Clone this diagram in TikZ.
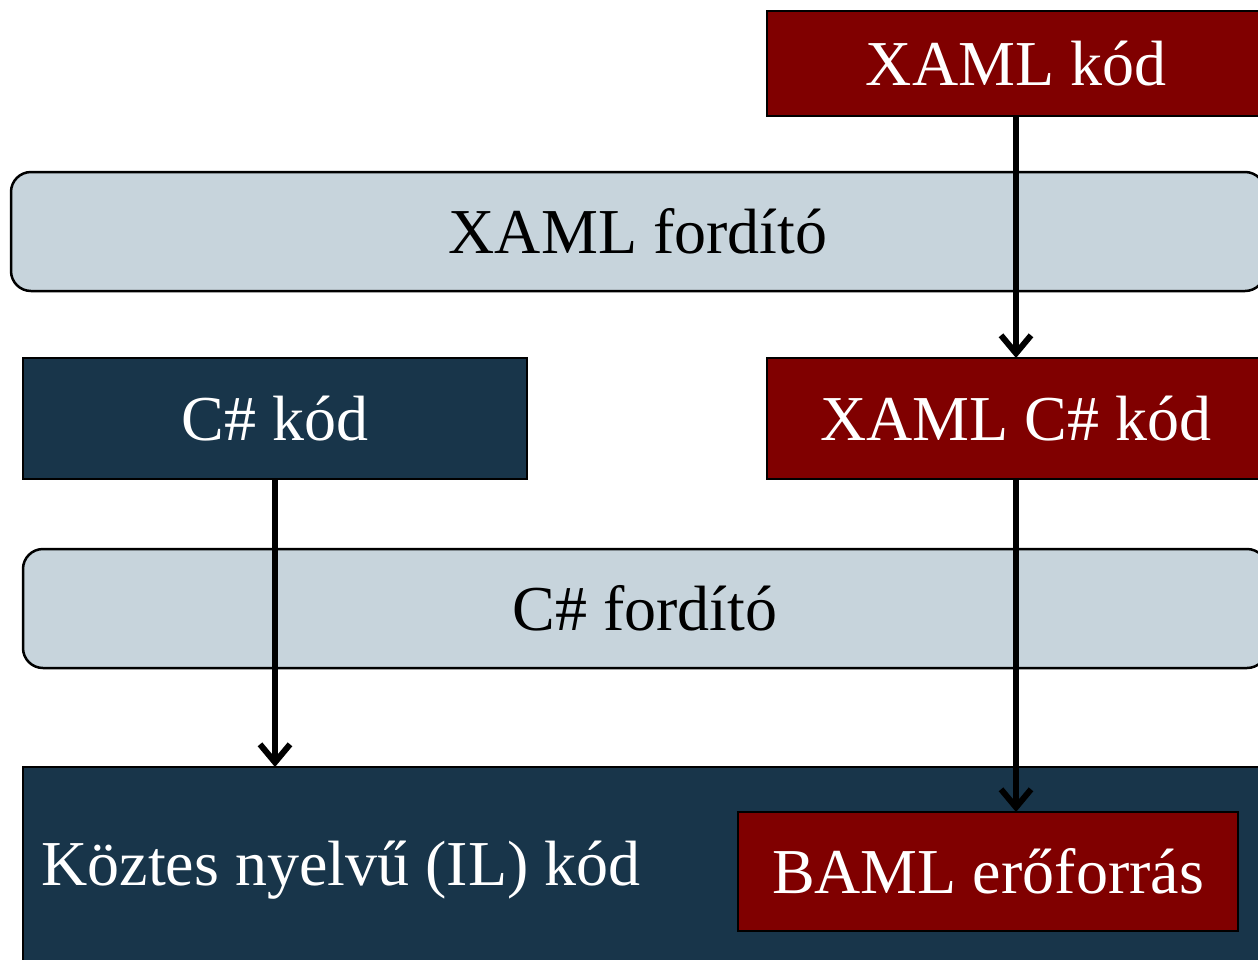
\documentclass[tikz,border=0pt]{standalone}
\usepackage{fontspec}
\setmainfont{Liberation Serif}
\usetikzlibrary{arrows.meta}

\definecolor{kodred}{HTML}{800000}
\definecolor{kodnavy}{HTML}{18354A}
\definecolor{forditogray}{HTML}{C7D4DC}

\tikzset{
  kodbox/.style={draw=black, line width=2.5pt, inner sep=0pt, outer sep=0pt,
                 text=white, font=\fontsize{64}{70}\selectfont},
  forditobox/.style={draw=black, line width=2.5pt, fill=forditogray, rounded corners=20pt,
                     inner sep=0pt, outer sep=0pt, font=\fontsize{64}{70}\selectfont},
  flow/.style={draw=black, line width=6pt, -{Straight Barb[length=18pt,width=30pt]}}
}

\begin{document}
\begin{tikzpicture}[x=1pt, y=-1pt]
  %one unit is one pixel of the 1258x959 reference
  \useasboundingbox (0,0) rectangle (1258,959);

  % the intermediate code block lies under everything
  \node[kodbox, fill=kodnavy, minimum width=1260pt, minimum height=220pt, anchor=north west]
     (il) at (23,767) {};
  \node[text=white, font=\fontsize{64}{70}\selectfont, anchor=west]
     (illabel) at (38,870) {Köztes nyelvű (IL) kód};
  \node[kodbox, fill=kodred, minimum width=500pt, minimum height=119pt]
     (baml) at (988,871.5) {BAML erőforrás};

  % compilers
  \node[forditobox, minimum width=1254pt, minimum height=119pt]
     (xamlford) at (638,231.5) {XAML fordító};
  \node[forditobox, minimum width=1244pt, minimum height=119pt]
     (csford) at (645,608.5) {C\# fordító};

  % sources
  \node[kodbox, fill=kodred, minimum width=498pt, minimum height=105pt]
     (xaml) at (1016,63.5) {XAML kód};
  \node[kodbox, fill=kodred, minimum width=498pt, minimum height=121pt]
     (xamlcs) at (1016,418.5) {XAML C\# kód};
  \node[kodbox, fill=kodnavy, minimum width=504pt, minimum height=121pt]
     (cs) at (275,418.5) {C\# kód};

  % flow of the code
  \draw[flow] (xaml.south) -- (xamlcs.north);
  \draw[flow] (cs.south) -- (cs.south |- il.north);
  \draw[flow] (xamlcs.south) -- (baml.north -| xamlcs.south);
\end{tikzpicture}
\end{document}
